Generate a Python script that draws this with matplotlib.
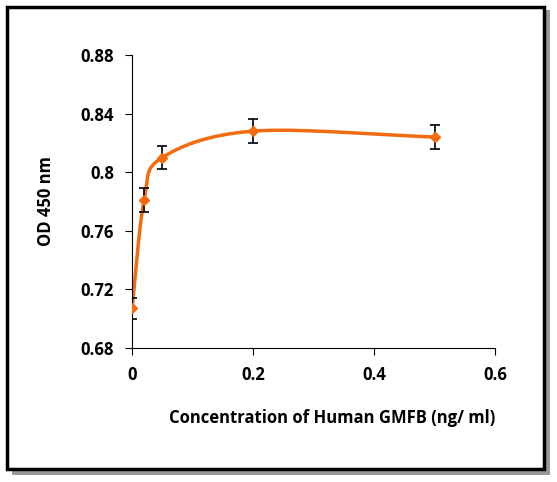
import numpy as np
import matplotlib
matplotlib.use("Agg")
import matplotlib.pyplot as plt
from matplotlib.patches import Rectangle

conc = [0, 0.02, 0.05, 0.2, 0.5]
od = [0.707, 0.781, 0.810, 0.828, 0.824]
err = [0.007, 0.008, 0.008, 0.008, 0.008]
yticks = [0.68, 0.72, 0.76, 0.8, 0.84, 0.88]
ytlabels = ["0.68", "0.72", "0.76", "0.8", "0.84", "0.88"]
xticks = [0, 0.2, 0.4, 0.6]
xtlabels = ["0", "0.2", "0.4", "0.6"]

plt.rcParams['font.family'] = ['Open Sans', 'DejaVu Sans']
fig = plt.figure(figsize=(5.57, 4.82), dpi=100)

# frame with shadow
fig.patches.append(Rectangle((0.022, 0.015), 0.965, 0.965, transform=fig.transFigure,
                             facecolor='#999999', edgecolor='none', zorder=0))
fig.patches.append(Rectangle((0.012, 0.027), 0.965, 0.958, transform=fig.transFigure,
                             facecolor='white', edgecolor='black', lw=2.5, zorder=0.5))

ax = fig.add_axes([0.237, 0.278, 0.652, 0.608])
ax.set_zorder(5)
ax.set_facecolor('none')

# smooth curve (Catmull-Rom through the data points)
x = np.array(conc); y = np.array(od)
px = np.concatenate([[x[0] - (x[1] - x[0])], x, [x[-1] + (x[-1] - x[-2])]])
py = np.concatenate([[y[0] - (y[1] - y[0])], y, [y[-1] + (y[-1] - y[-2])]])
cx, cy = [], []
for i in range(1, len(px) - 2):
    t = np.linspace(0, 1, 60)
    p0, p1, p2, p3 = [np.array([px[j], py[j]]) for j in range(i - 1, i + 3)]
    pts = 0.5 * ((2 * p1)[:, None] + (-p0 + p2)[:, None] * t +
                 (2 * p0 - 5 * p1 + 4 * p2 - p3)[:, None] * t**2 +
                 (-p0 + 3 * p1 - 3 * p2 + p3)[:, None] * t**3)
    cx.extend(pts[0]); cy.extend(pts[1])
ax.plot(cx, cy, color='#F26B0F', lw=2.5, zorder=2)
ax.errorbar(conc, od, yerr=err, fmt='D', color='#F26B0F', ms=5, ecolor='black',
            elinewidth=1.2, capsize=3.5, capthick=1.2, zorder=3)

ax.set_xlim(0, 0.6)
ax.set_ylim(0.68, 0.88)
ax.set_xticks(xticks, xtlabels)
ax.set_yticks(yticks, ytlabels)
for s in ['top', 'right']:
    ax.spines[s].set_visible(False)
ax.tick_params(direction='out', length=5, labelsize=12, pad=8)
for lab in ax.get_xticklabels() + ax.get_yticklabels():
    lab.set_fontweight('bold')
ax.set_ylabel('OD 450 nm', fontsize=12, fontweight='bold', labelpad=18)
ax.set_xlabel('Concentration of Human GMFB (ng/ ml)', fontsize=12, fontweight='bold',
              labelpad=18, x=0.55)

fig.savefig('out.png', dpi=100)
